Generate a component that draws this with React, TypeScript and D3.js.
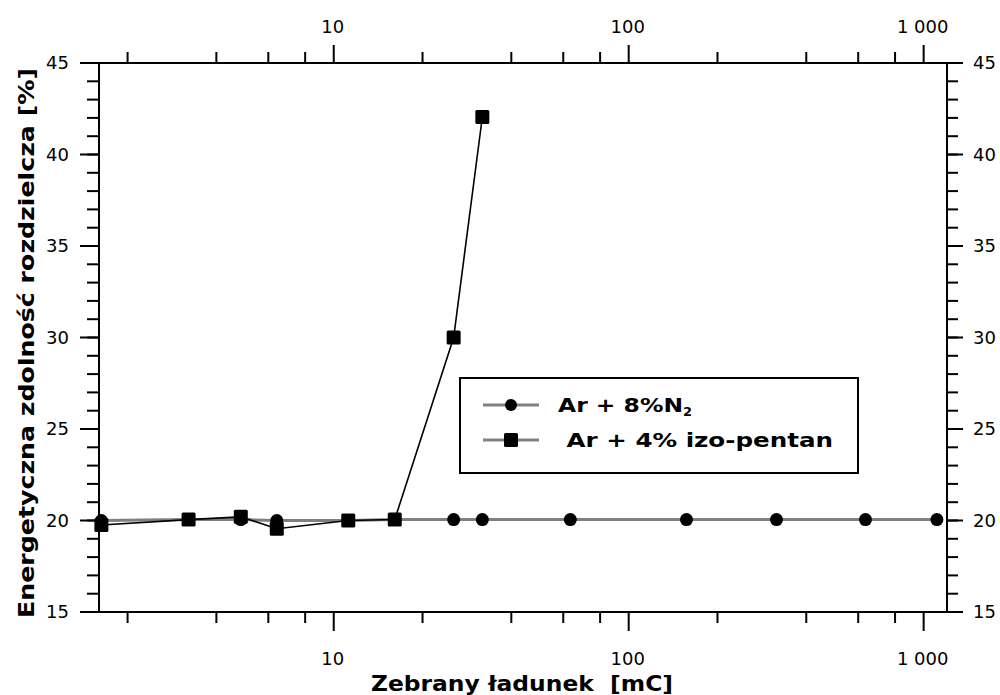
import React from "react";
import * as d3 from "d3";

const n2X = [1.63, 3.22, 4.84, 6.41, 11.2, 16.1, 25.5, 31.9, 63.4, 157, 317, 635, 1109];
const n2Y = [20.0, 20.05, 20.05, 20.0, 20.0, 20.05, 20.05, 20.05, 20.05, 20.05, 20.05, 20.05, 20.05];
const penX = [1.63, 3.22, 4.84, 6.41, 11.2, 16.1, 25.5, 31.9];
const penY = [19.75, 20.05, 20.2, 19.55, 20.0, 20.05, 30.0, 42.05];
const xMajor = [10, 100, 1000];
const xMajorLabels = ["10", "100", "1 000"];
const xMinor = [2, 4, 6, 8, 20, 40, 60, 80, 200, 400, 600, 800];
const yMajor = [15, 20, 25, 30, 35, 40, 45];
const yMinor = d3.range(15, 46, 1);
const seriesNames = ["Ar + 8%N", " Ar + 4% izo-pentan"];

const W = 1000, H = 695;
const L = 99, R = 947, T = 63, B = 612;

export default function App() {
  const x = d3.scaleLog().domain([1.6, 1200]).range([L, R]);
  const y = d3.scaleLinear().domain([15, 45]).range([B, T]);
  const n2 = n2X.map((v, i) => [v, n2Y[i]] as [number, number]);
  const pen = penX.map((v, i) => [v, penY[i]] as [number, number]);
  const line = d3.line<[number, number]>().x(d => x(d[0])).y(d => y(d[1]));
  const font = "'DejaVu Sans', Verdana, sans-serif";
  const tickFs = 18;
  return (
    <svg width={W} height={H} style={{ position: "absolute", left: 0, top: 0, background: "#fff" }}
      fontFamily={font}>
      {/* frame */}
      <line x1={L - 19} x2={R + 16} y1={T} y2={T} stroke="#000" strokeWidth={2} />
      <line x1={L - 19} x2={R + 16} y1={B} y2={B} stroke="#000" strokeWidth={2} />
      <line x1={L} x2={L} y1={T} y2={B} stroke="#000" strokeWidth={2} />
      <line x1={R} x2={R} y1={T} y2={B} stroke="#000" strokeWidth={2} />
      {/* x ticks */}
      {xMinor.map(v => (
        <g key={"xm" + v}>
          <line x1={x(v)} x2={x(v)} y1={T} y2={T - 11} stroke="#000" strokeWidth={2} />
          <line x1={x(v)} x2={x(v)} y1={B} y2={B + 11} stroke="#000" strokeWidth={2} />
        </g>
      ))}
      {xMajor.map((v, i) => (
        <g key={"xM" + v}>
          <line x1={x(v)} x2={x(v)} y1={T} y2={T - 18} stroke="#000" strokeWidth={2} />
          <line x1={x(v)} x2={x(v)} y1={B} y2={B + 19} stroke="#000" strokeWidth={2} />
          <text x={x(v) - 1} y={33} textAnchor="middle" fontSize={tickFs}>{xMajorLabels[i]}</text>
          <text x={x(v) - 1} y={665} textAnchor="middle" fontSize={tickFs}>{xMajorLabels[i]}</text>
        </g>
      ))}
      {/* y ticks */}
      {yMinor.map(v => (
        <g key={"ym" + v}>
          <line x1={L} x2={L - 12} y1={y(v)} y2={y(v)} stroke="#000" strokeWidth={2} />
          <line x1={R} x2={R + 11} y1={y(v)} y2={y(v)} stroke="#000" strokeWidth={2} />
        </g>
      ))}
      {yMajor.map(v => (
        <g key={"yM" + v}>
          <line x1={L} x2={L - 19} y1={y(v)} y2={y(v)} stroke="#000" strokeWidth={2} />
          <line x1={R} x2={R + 16} y1={y(v)} y2={y(v)} stroke="#000" strokeWidth={2} />
          <text x={L - 30} y={y(v)} dy="0.36em" textAnchor="end" fontSize={tickFs}>{v}</text>
          <text x={R + 26} y={y(v)} dy="0.36em" textAnchor="start" fontSize={tickFs}>{v}</text>
        </g>
      ))}
      {/* series N2 */}
      <path d={line(n2) || ""} fill="none" stroke="#808080" strokeWidth={3} />
      {n2.map((d, i) => (
        <circle key={"c" + i} cx={x(d[0])} cy={y(d[1])} r={6.5} fill="#000" />
      ))}
      {/* series pentan */}
      <path d={line(pen) || ""} fill="none" stroke="#000" strokeWidth={1.6} />
      {pen.map((d, i) => (
        <rect key={"s" + i} x={x(d[0]) - 7} y={y(d[1]) - 7} width={14} height={14} rx={1.5} fill="#000" />
      ))}
      {/* legend */}
      <rect x={460} y={378} width={398} height={95} fill="#fff" stroke="#000" strokeWidth={2} />
      <line x1={483} x2={539} y1={405} y2={405} stroke="#808080" strokeWidth={3} />
      <circle cx={511} cy={405} r={6} fill="#000" />
      <line x1={483} x2={539} y1={440} y2={440} stroke="#808080" strokeWidth={3} />
      <rect x={504} y={433} width={14} height={14} rx={1.5} fill="#000" />
      <text x={558} y={412} fontSize={20} fontWeight="bold">
        <tspan textLength={125} lengthAdjust="spacingAndGlyphs">{seriesNames[0]}</tspan>
        <tspan fontSize={13} dy={4}>2</tspan>
      </text>
      <text x={558} y={447} fontSize={20} fontWeight="bold" style={{ whiteSpace: "pre" }}
        textLength={275} lengthAdjust="spacingAndGlyphs">{seriesNames[1]}</text>
      {/* axis titles */}
      <text x={522} y={691} textAnchor="middle" fontSize={21} fontWeight="bold" style={{ whiteSpace: "pre" }}
        textLength={302} lengthAdjust="spacingAndGlyphs">Zebrany ładunek  [mC]</text>
      <text transform={`translate(34,343) rotate(-90)`} textAnchor="middle" fontSize={22} fontWeight="bold"
        textLength={550} lengthAdjust="spacingAndGlyphs">Energetyczna zdolność rozdzielcza [%]</text>
    </svg>
  );
}
